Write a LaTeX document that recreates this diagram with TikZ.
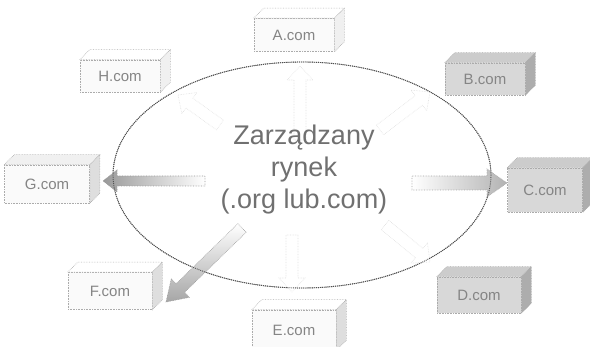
\documentclass[tikz,border=0pt]{standalone}
\usepackage{fontspec}
\setmainfont{Liberation Sans}
\usetikzlibrary{calc,shapes.geometric}

\definecolor{rimgray}{HTML}{505050}
\definecolor{textgray}{HTML}{707070}
\definecolor{boxtext}{HTML}{858585}
\definecolor{lightface}{HTML}{FAFAFA}
\definecolor{lighttop}{HTML}{F0F0F0}
\definecolor{lightside}{HTML}{DEDEDE}
\definecolor{darkface}{HTML}{D8D8D8}
\definecolor{darktop}{HTML}{CCCCCC}
\definecolor{darkside}{HTML}{ADADAD}
\definecolor{edgegray}{HTML}{ABABAB}

\tikzset{
  webbox/.style={draw=edgegray, densely dotted, line width=0.6pt, inner sep=0pt,
    font=\fontsize{15}{15}\selectfont, text=boxtext},
  lightbox/.style={webbox, fill=lightface},
  darkbox/.style={webbox, fill=darkface},
  market/.style={draw=rimgray, densely dotted, line width=0.9pt, fill=white,
    ellipse, minimum width=378pt, minimum height=226pt, inner sep=0pt},
  faintarrow/.style={draw=black!12, densely dotted, line width=0.6pt, fill=white},
}

% top and right faces of a box whose front face is node #1
\newcommand\boxfaces[3]{%
  \draw[draw=edgegray, densely dotted, line width=0.6pt, fill=#2]
    (#1.north west) -- ++(10,-10) -- ([shift={(10,-10)}]#1.north east)
    -- (#1.north east) -- cycle;
  \draw[draw=edgegray, densely dotted, line width=0.6pt, fill=#3]
    (#1.north east) -- ([shift={(10,-10)}]#1.north east)
    -- ([shift={(10,-10)}]#1.south east) -- (#1.south east) -- cycle;
}

% block arrow from #1 to #2: neck coordinate #3, half shaft #4, half head #5, head length #6, style #7
\newcommand\blockarrow[7]{%
  \coordinate (#3) at ($(#2)!#6!(#1)$);
  \path[#7] ($(#1)!#4!90:(#2)$) -- ($(#3)!#4!90:(#2)$) -- ($(#3)!#5!90:(#2)$)
    -- (#2) -- ($(#3)!#5!-90:(#2)$) -- ($(#3)!#4!-90:(#2)$)
    -- ($(#1)!#4!-90:(#2)$) -- cycle;
}

\begin{document}
\begin{tikzpicture}[x=1pt, y=-1pt]
  \useasboundingbox (0,0) rectangle (590,347);

  % the market
  \node[market] (mkt) at (302,175) {};

  % front faces of the domain boxes
  \node[lightbox, minimum width=80pt, minimum height=33pt] (A) at (294,35) {A.com};
  \node[darkbox,  minimum width=80pt, minimum height=32pt] (B) at (485,79) {B.com};
  \node[darkbox,  minimum width=75pt, minimum height=44pt] (C) at (545,190) {C.com};
  \node[darkbox,  minimum width=84pt, minimum height=36pt] (D) at (479,295) {D.com};
  \node[lightbox, minimum width=84pt, minimum height=40pt] (E) at (294,330) {E.com};
  \node[lightbox, minimum width=84pt, minimum height=37pt] (F) at (110,291) {F.com};
  \node[lightbox, minimum width=85pt, minimum height=38pt] (G) at (47,184) {G.com};
  \node[lightbox, minimum width=80pt, minimum height=32pt] (H) at (120,76) {H.com};

  \boxfaces{A}{white}{lighttop}
  \boxfaces{B}{darktop}{darkside}
  \boxfaces{C}{darktop}{darkside}
  \boxfaces{D}{darktop}{darkside}
  \boxfaces{E}{white}{lightside}
  \boxfaces{F}{white}{lightside}
  \boxfaces{G}{lighttop}{lightside}
  \boxfaces{H}{white}{lighttop}

  % arrow start points inside the market
  \coordinate (oA) at (300,140);
  \coordinate (oB) at (380,130);
  \coordinate (oD) at (385,225);
  \coordinate (oE) at (292,235);
  \coordinate (oH) at (220,125);
  \coordinate (oG) at (205,181);
  \coordinate (oC) at (412,183);
  \coordinate (oF) at (242,228);

  % arrow tips at the rim
  \coordinate (tA) at (300,66);
  \coordinate (tB) at (430,92);
  \coordinate (tD) at (430,262);
  \coordinate (tE) at (292,292);
  \coordinate (tH) at (178,95);
  \coordinate (tG) at (103,181);
  \coordinate (tC) at (507,183);
  \coordinate (tF) at (166,302);

  % faint arrows
  \blockarrow{oA}{tA}{nA}{6pt}{13pt}{14pt}{faintarrow}
  \blockarrow{oB}{tB}{nB}{6pt}{13pt}{14pt}{faintarrow}
  \blockarrow{oD}{tD}{nD}{6pt}{13pt}{14pt}{faintarrow}
  \blockarrow{oE}{tE}{nE}{6pt}{13pt}{14pt}{faintarrow}
  \blockarrow{oH}{tH}{nH}{6pt}{13pt}{14pt}{faintarrow}

  % marked arrows
  \blockarrow{oG}{tG}{nG}{5pt}{11pt}{14pt}{draw=black!40, densely dotted, line width=0.6pt,
    left color=black!40, right color=white}
  \blockarrow{oC}{tC}{nC}{7pt}{14pt}{20pt}{draw=black!35, densely dotted, line width=0.6pt,
    left color=white, right color=black!30}
  \blockarrow{oF}{tF}{nF}{6pt}{13pt}{20pt}{draw=black!40, densely dotted, line width=0.6pt,
    top color=white, bottom color=black!35}

  % rim of the market, over the arrows
  \draw[rimgray, densely dotted, line width=0.9pt] (mkt.center) ellipse [x radius=189, y radius=113];

  % label of the market
  \node[font=\fontsize{27}{32}\selectfont, text=textgray, align=center] (lbl) at (304,170)
    {Zarządzany\\rynek\\(.org lub.com)};
\end{tikzpicture}
\end{document}
